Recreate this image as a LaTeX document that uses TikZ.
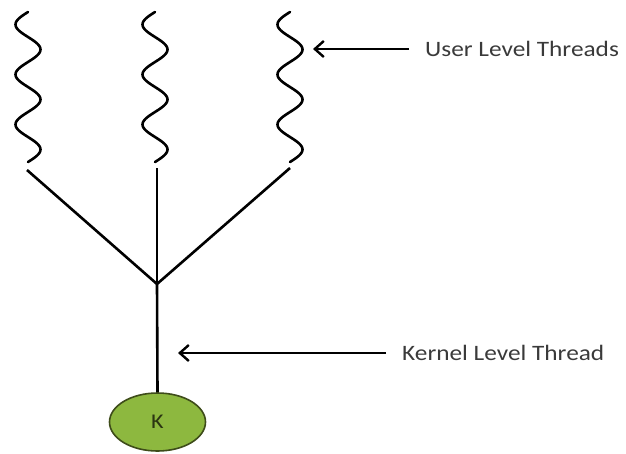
\documentclass[tikz,border=0pt]{standalone}
\usepackage{fontspec}
\setmainfont[FakeStretch=1.15]{Carlito}
\usetikzlibrary{shapes.geometric, positioning, arrows.meta}

\definecolor{kgreen}{HTML}{8DB83F}
\definecolor{kedge}{HTML}{3E4C1A}
\definecolor{txt}{HTML}{3A3A3A}

\tikzset{
	wave/.style = {line width=2.6pt, line cap=round},
	branch/.style = {line width=2.6pt},
	pointer/.style = {line width=2.4pt, -{Straight Barb[length=9pt, width=16pt, line width=2.4pt]}, shorten <=16pt},
	label/.style = {text=txt, font=\fontsize{22}{26}\selectfont, inner sep=0pt, anchor=west},
	kthread/.style = {ellipse, draw=kedge, line width=1.6pt, fill=kgreen, minimum width=96pt, minimum height=58pt, font=\fontsize{21}{24}\selectfont}
}

\begin{document}
\begin{tikzpicture}[x=1pt, y=1pt]
	\useasboundingbox (0,0) rectangle (626,-453);

	% user level threads
	\coordinate (u1) at (28,-12);
	\coordinate (u2) at (155,-12);
	\coordinate (u3) at (290,-12);

	\foreach \u in {u1,u2,u3}
		\draw[wave, shift={(\u)}] plot[domain=0:150, samples=121, smooth] ({-12.5*sin(7.2*\x)}, {-\x});

	% branches into the kernel thread
	\coordinate (b1) at (27,-170);
	\coordinate (b2) at (157,-168);
	\coordinate (b3) at (290,-168);
	\coordinate (join) at (157,-284);
	\node[kthread, text=kedge!70!black] (k) at (157.5,-422) {K};

	\draw[branch] (b1) -- (join);
	\draw[branch] (b2) -- (join);
	\draw[branch] (b3) -- (join);
	\draw[branch] (join) -- (k.north);

	% labels
	\node[label] (ult) at (425,-49) {User Level Threads};
	\node[label] (klt) at (402,-353) {Kernel Level Thread};
	\coordinate (ulttip) at (313,-49);
	\coordinate (klttip) at (178,-353);

	\draw[pointer] (ult.west) -- (ulttip);
	\draw[pointer] (klt.west) -- (klttip);

\end{tikzpicture}
\end{document}
